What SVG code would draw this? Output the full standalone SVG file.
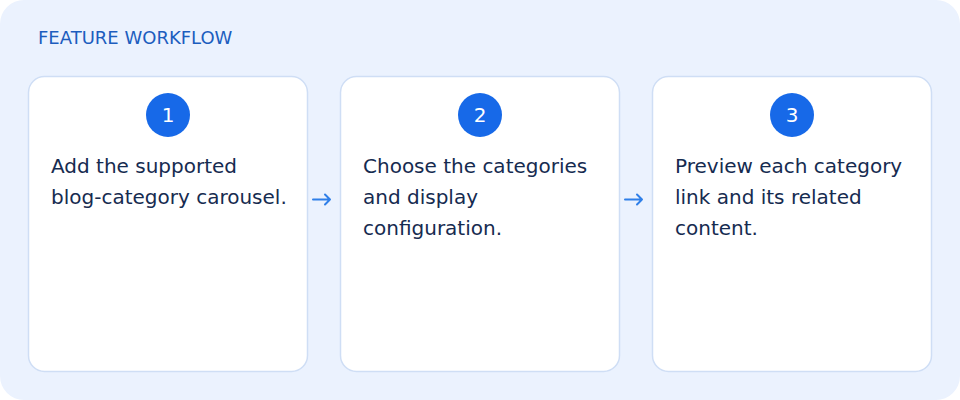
<svg xmlns="http://www.w3.org/2000/svg" width="960" height="400" viewBox="0 0 960 400">
<defs>
<style>
.bg{fill:#EBF2FE;}
.card{fill:#FFFFFF;stroke:#CFDEF5;stroke-width:1.5;}
.badge{fill:#1769E8;}
.num{font-family:"DejaVu Sans",sans-serif;font-size:20px;fill:#FFFFFF;text-anchor:middle;}
.body{font-family:"DejaVu Sans",sans-serif;font-size:20px;fill:#162B50;}
.title{font-family:"DejaVu Sans",sans-serif;font-size:18px;fill:#1C5DBE;}
.arrow{fill:none;stroke:#2F7FE8;stroke-width:2;stroke-linecap:round;stroke-linejoin:round;}
</style>
</defs>
<rect class="bg" x="0" y="0" width="960" height="400" rx="24"/>
<text class="title" x="38" y="44">FEATURE WORKFLOW</text>
<g id="connectors">
<path class="arrow" d="M313 199.5 H330 M325 194.5 L330 199.5 L325 204.5"/>
<path class="arrow" d="M625 199.5 H642 M637 194.5 L642 199.5 L637 204.5"/>
</g>
<g id="step1">
<rect class="card" x="28.5" y="76.5" width="279" height="295" rx="16"/>
<circle class="badge" cx="168" cy="115" r="22"/>
<text class="num" x="168" y="122">1</text>
<text class="body" x="51" y="173">Add the supported</text>
<text class="body" x="51" y="204">blog-category carousel.</text>
</g>
<g id="step2">
<rect class="card" x="340.5" y="76.5" width="279" height="295" rx="16"/>
<circle class="badge" cx="480" cy="115" r="22"/>
<text class="num" x="480" y="122">2</text>
<text class="body" x="363" y="173">Choose the categories</text>
<text class="body" x="363" y="204">and display</text>
<text class="body" x="363" y="235">configuration.</text>
</g>
<g id="step3">
<rect class="card" x="652.5" y="76.5" width="279" height="295" rx="16"/>
<circle class="badge" cx="792" cy="115" r="22"/>
<text class="num" x="792" y="122">3</text>
<text class="body" x="675" y="173">Preview each category</text>
<text class="body" x="675" y="204">link and its related</text>
<text class="body" x="675" y="235">content.</text>
</g>
</svg>
